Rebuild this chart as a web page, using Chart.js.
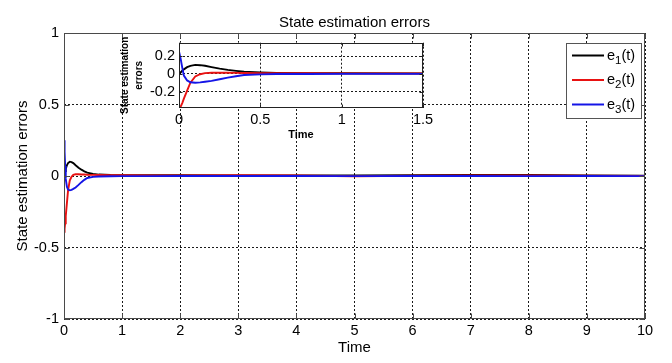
<!DOCTYPE html>
<html>
<head>
<meta charset="utf-8">
<script src="https://cdn.jsdelivr.net/npm/chart.js@4.4.1/dist/chart.umd.min.js"></script>
<style>
  html, body { margin: 0; padding: 0; background: #fff; }
  #wrap { position: relative; width: 672px; height: 363px; background: #fff; }
  #main { position: absolute; left: 0; top: 0; }
  #inset { position: absolute; left: 110px; top: 30px; }
</style>
</head>
<body>
<div id="wrap">
  <canvas id="main" width="672" height="363"></canvas>
  <canvas id="inset" width="330" height="115"></canvas>
</div>
<script>
// time samples and the three error signals
const time = [0, 0.01, 0.02, 0.03, 0.05, 0.07, 0.1, 0.13, 0.16, 0.2, 0.25, 0.3, 0.35, 0.4, 0.5, 0.6, 0.8, 1, 1.5, 2, 3, 4, 5, 6, 7, 8, 9, 10];
const e1 = [0, 0.015, 0.035, 0.05, 0.075, 0.09, 0.1, 0.097, 0.09, 0.075, 0.058, 0.044, 0.033, 0.024, 0.015, 0.01, 0.007, 0.006, 0.005, 0.005, 0.004, 0.003, 0.004, 0.005, 0.007, 0.007, 0.004, 0.002];
const e2 = [-0.39, -0.37, -0.33, -0.28, -0.19, -0.1, -0.03, -0.005, 0.008, 0.012, 0.012, 0.011, 0.01, 0.009, 0.008, 0.007, 0.006, 0.005, 0.004, 0.004, 0.005, 0.003, -0.002, 0.002, 0.004, 0.003, 0.002, 0.001];
const e3 = [0.25, 0.17, 0.07, -0.02, -0.075, -0.095, -0.1, -0.097, -0.09, -0.08, -0.062, -0.043, -0.027, -0.014, -0.006, -0.003, -0.002, -0.001, -0.001, 0, 0, 0, -0.001, 0, 0, -0.001, 0, -0.001];

const seriesLabels = ['e1(t)', 'e2(t)', 'e3(t)'];

const mainXTicks = [0, 1, 2, 3, 4, 5, 6, 7, 8, 9, 10];
const mainYTicks = [-1, -0.5, 0, 0.5, 1];
const insetXTicks = [0, 0.5, 1, 1.5];
const insetYTicks = [-0.2, 0, 0.2];

const FONT = 'Arial, "Liberation Sans", sans-serif';

function makeDatasets(width) {
  const colors = ['#000000', '#e81212', '#1414e6'];
  return [e1, e2, e3].map((vals, i) => ({
    label: seriesLabels[i],
    data: time.map((t, k) => ({ x: t, y: vals[k] })),
    borderColor: colors[i],
    borderWidth: width,
    pointRadius: 0,
    tension: 0,
    order: 3 - i // blue on top like matlab
  }));
}

function fixedTicks(list) {
  return scale => { scale.ticks = list.map(v => ({ value: v })); };
}

// white plot background + box around the axes with inward tick marks
const framePlugin = {
  id: 'frame',
  beforeDraw(chart, args, opts) {
    if (!opts.fill) return;
    const { ctx, chartArea: a } = chart;
    ctx.save();
    ctx.fillStyle = opts.fill;
    ctx.fillRect(a.left, a.top, a.right - a.left, a.bottom - a.top);
    ctx.restore();
  },
  afterDraw(chart, args, opts) {
    const { ctx, chartArea: a, scales } = chart;
    const L = Math.round(a.left) + 0.5, T = Math.round(a.top) + 0.5;
    const R = Math.round(a.right) - 0.5, B = Math.round(a.bottom) - 0.5;
    const tl = opts.tick || 4;
    ctx.save();
    ctx.strokeStyle = opts.color || '#444';
    ctx.lineWidth = 1;
    ctx.beginPath();
    scales.x.ticks.forEach(t => {
      const px = Math.round(scales.x.getPixelForValue(t.value)) + 0.5;
      ctx.moveTo(px, B); ctx.lineTo(px, B - tl);
      ctx.moveTo(px, T); ctx.lineTo(px, T + tl);
    });
    scales.y.ticks.forEach(t => {
      const py = Math.round(scales.y.getPixelForValue(t.value)) + 0.5;
      ctx.moveTo(L, py); ctx.lineTo(L + tl, py);
      ctx.moveTo(R, py); ctx.lineTo(R - tl, py);
    });
    ctx.stroke();
    ctx.strokeRect(L, T, R - L, B - T);
    ctx.restore();
  }
};

// title centred over the axes, not over the canvas
const axesTitlePlugin = {
  id: 'axesTitle',
  afterDraw(chart, args, opts) {
    if (!opts.text) return;
    const { ctx, chartArea: a } = chart;
    ctx.save();
    ctx.font = opts.font;
    ctx.fillStyle = '#000';
    ctx.textAlign = 'center';
    ctx.textBaseline = 'middle';
    ctx.fillText(opts.text, (a.left + a.right) / 2, opts.y);
    ctx.restore();
  }
};

// matlab style legend box with subscripts
const boxLegendPlugin = {
  id: 'boxLegend',
  afterDraw(chart, args, opts) {
    if (!opts.display) return;
    const ctx = chart.ctx;
    const b = opts.box;
    ctx.save();
    ctx.fillStyle = '#fff';
    ctx.fillRect(b.x, b.y, b.w, b.h);
    ctx.strokeStyle = '#555';
    ctx.lineWidth = 1;
    ctx.strokeRect(b.x + 0.5, b.y + 0.5, b.w, b.h);
    chart.data.datasets.forEach((ds, i) => {
      const y = b.y + opts.firstRow + i * opts.rowGap;
      ctx.strokeStyle = ds.borderColor;
      ctx.lineWidth = 2;
      ctx.beginPath();
      ctx.moveTo(b.x + 6, y);
      ctx.lineTo(b.x + 38, y);
      ctx.stroke();
      const lbl = ds.label;
      let x = b.x + 41;
      ctx.fillStyle = '#000';
      ctx.textBaseline = 'middle';
      ctx.textAlign = 'left';
      ctx.font = '14.5px ' + FONT;
      ctx.fillText(lbl[0], x, y);
      x += ctx.measureText(lbl[0]).width;
      ctx.font = '11.5px ' + FONT;
      ctx.fillText(lbl[1], x, y + 5);
      x += ctx.measureText(lbl[1]).width;
      ctx.font = '14.5px ' + FONT;
      ctx.fillText(lbl.slice(2), x, y);
    });
    ctx.restore();
  }
};

Chart.register(framePlugin, axesTitlePlugin, boxLegendPlugin);

const tickFont = { family: FONT, size: 14.5 };

new Chart(document.getElementById('main'), {
  type: 'line',
  data: { datasets: makeDatasets(1.9) },
  options: {
    responsive: false,
    animation: false,
    layout: { padding: { left: 0, right: 27, top: 33, bottom: 0 } },
    plugins: {
      legend: { display: false },
      tooltip: { enabled: false },
      frame: { color: '#4a4a4a', tick: 5 },
      axesTitle: { text: 'State estimation errors', font: '15px ' + FONT, y: 23 },
      boxLegend: { display: true, box: { x: 566, y: 43, w: 75, h: 75 }, firstRow: 12.5, rowGap: 24.5 }
    },
    scales: {
      x: {
        type: 'linear', min: 0, max: 10,
        afterBuildTicks: fixedTicks(mainXTicks),
        afterFit: s => { s.height = 44; },
        grid: { color: '#1a1a1a', lineWidth: 1, drawTicks: false },
        border: { display: false, dash: [2, 2] },
        ticks: { color: '#000', font: tickFont, padding: 3, maxRotation: 0, autoSkip: false, callback: v => String(v) },
        title: { display: true, text: 'Time', color: '#000', font: { family: FONT, size: 15 }, padding: { top: 0, bottom: 6 } }
      },
      y: {
        min: -1, max: 1,
        afterBuildTicks: fixedTicks(mainYTicks),
        afterFit: s => { s.width = 64; },
        grid: { color: '#1a1a1a', lineWidth: 1, drawTicks: false },
        border: { display: false, dash: [2, 2] },
        ticks: { color: '#000', font: tickFont, padding: 5, autoSkip: false, callback: v => String(v) },
        title: { display: true, text: 'State estimation errors', color: '#000', font: { family: FONT, size: 15 }, padding: { top: 14, bottom: 0 } }
      }
    }
  }
});

new Chart(document.getElementById('inset'), {
  type: 'line',
  data: { datasets: makeDatasets(1.9) },
  options: {
    responsive: false,
    animation: false,
    layout: { padding: { left: 0, right: 17, top: 6, bottom: 0 } },
    plugins: {
      legend: { display: false },
      tooltip: { enabled: false },
      frame: { color: '#222', fill: '#fff', tick: 3 },
      axesTitle: { text: '' },
      boxLegend: { display: false }
    },
    scales: {
      x: {
        type: 'linear', min: 0, max: 1.5,
        afterBuildTicks: fixedTicks(insetXTicks),
        afterFit: s => { s.height = 37; },
        grid: { color: '#1a1a1a', lineWidth: 1, drawTicks: false },
        border: { display: false, dash: [2, 2] },
        ticks: { color: '#000', font: tickFont, padding: 3, maxRotation: 0, autoSkip: false, callback: v => String(v) },
        title: { display: true, text: 'Time', color: '#000', font: { family: FONT, size: 11, weight: 'bold' }, padding: { top: 0, bottom: 3 } }
      },
      y: {
        min: -0.385, max: 0.35,
        afterBuildTicks: fixedTicks(insetYTicks),
        afterFit: s => { s.width = 69; },
        grid: { color: '#1a1a1a', lineWidth: 1, drawTicks: false },
        border: { display: false, dash: [2, 2] },
        ticks: { color: '#000', font: tickFont, padding: 4, autoSkip: false, callback: v => String(v) },
        title: { display: true, text: ['State estimation', 'errors'], color: '#000', font: { family: FONT, size: 10, weight: 'bold', lineHeight: 1.4 }, padding: { top: 8, bottom: 0 } }
      }
    }
  }
});
</script>
</body>
</html>
